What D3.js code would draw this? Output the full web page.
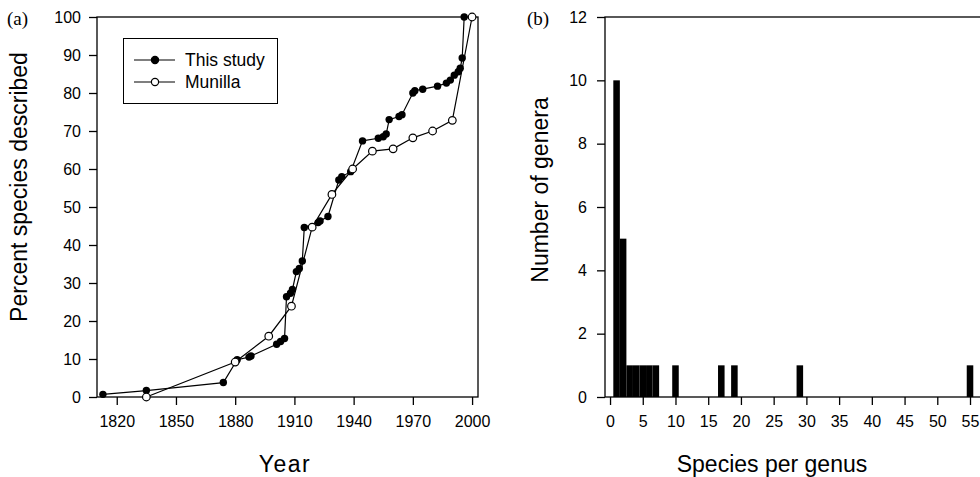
<!DOCTYPE html>
<html>
<head>
<meta charset="utf-8">
<script src="https://cdn.jsdelivr.net/npm/d3@7"></script>
<style>
  body { margin: 0; background: #fff; }
  svg { display: block; }
  .tick text { font-family: "Liberation Sans", Arial, sans-serif; font-size: 16px; fill: #000; }
  .title { font-family: "Liberation Sans", Arial, sans-serif; font-size: 23px; fill: #000; }
  .panel { font-family: "Liberation Serif", "Times New Roman", serif; font-size: 19px; fill: #000; }
</style>
</head>
<body>
<script>
// panel (a): cumulative percent of species described
const studyYears = [1813, 1835, 1874, 1881, 1887, 1888, 1901, 1903, 1905, 1906, 1908, 1909, 1911, 1912.5, 1914,
    1915, 1922, 1923, 1927, 1932.5, 1934, 1938.5, 1944.5, 1952.5, 1955, 1956.5, 1958, 1963, 1964.5,
    1970, 1971, 1975, 1982.5, 1987, 1989, 1991, 1993, 1994, 1995, 1996];
const studyPct = [0.7, 1.7, 3.8, 9.8, 10.5, 10.8, 13.9, 14.6, 15.4, 26.4, 27.3, 28.3, 33, 33.8, 35.8,
    44.6, 45.9, 46.3, 47.5, 57.1, 58, 59.3, 67.4, 68.1, 68.5, 69.2, 73, 73.8, 74.3,
    80, 80.6, 81, 81.8, 82.6, 83.4, 84.7, 85.6, 86.5, 89.2, 100];
const munillaYears = [1835, 1880, 1897, 1908.5, 1919, 1929, 1939.5, 1949.5, 1960, 1970, 1980, 1990, 2000];
const munillaPct = [0, 9.2, 16, 23.9, 44.7, 53.3, 60, 64.7, 65.3, 68.2, 70, 72.8, 100];
const yearTicks = [1820, 1850, 1880, 1910, 1940, 1970, 2000];
const pctTicks = [0, 10, 20, 30, 40, 50, 60, 70, 80, 90, 100];

// panel (b): genera by number of species
const speciesPerGenus = [1, 2, 3, 4, 5, 6, 7, 10, 17, 19, 29, 55];
const generaCount = [10, 5, 1, 1, 1, 1, 1, 1, 1, 1, 1, 1];
const speciesTicks = [0, 5, 10, 15, 20, 25, 30, 35, 40, 45, 50, 55];
const generaTicks = [0, 2, 4, 6, 8, 10, 12];

const W = 980, H = 477;
const svg = d3.select("body").append("svg").attr("width", W).attr("height", H);
const ink = "#000";

const plotTop = 17, plotBottom = 397;

// ---------- panel (a)
const xA = d3.scaleLinear().domain([1810, 2003]).range([97, 478]);
const yA = d3.scaleLinear().domain([0, 100]).range([plotBottom, plotTop]);

svg.append("rect").attr("x", 97).attr("y", plotTop).attr("width", 478 - 97).attr("height", plotBottom - plotTop)
    .attr("fill", "none").attr("stroke", ink).attr("stroke-width", 1.3);

const axA_x = svg.append("g").attr("transform", `translate(0,${plotBottom})`)
    .call(d3.axisBottom(xA).tickValues(yearTicks).tickFormat(d3.format("d")).tickSize(8).tickPadding(11));
const axA_y = svg.append("g").attr("transform", "translate(97,0)")
    .call(d3.axisLeft(yA).tickValues(pctTicks).tickSize(8).tickPadding(8));
[axA_x, axA_y].forEach(g => {
    g.select(".domain").remove();
    g.selectAll(".tick line").attr("stroke", ink).attr("stroke-width", 1.3);
});

const study = studyYears.map((y, i) => [y, studyPct[i]]);
const munilla = munillaYears.map((y, i) => [y, munillaPct[i]]);
const line = d3.line().x(d => xA(d[0])).y(d => yA(d[1]));

svg.append("path").datum(munilla).attr("d", line).attr("fill", "none").attr("stroke", ink).attr("stroke-width", 1.2);
svg.append("path").datum(study).attr("d", line).attr("fill", "none").attr("stroke", ink).attr("stroke-width", 1.2);

svg.append("g").selectAll("circle").data(study).join("circle")
    .attr("cx", d => xA(d[0])).attr("cy", d => yA(d[1])).attr("r", 3.7).attr("fill", ink);
svg.append("g").selectAll("circle").data(munilla).join("circle")
    .attr("cx", d => xA(d[0])).attr("cy", d => yA(d[1])).attr("r", 3.8)
    .attr("fill", "#fff").attr("stroke", ink).attr("stroke-width", 1.2);

// legend
const lg = svg.append("g");
lg.append("rect").attr("x", 123.5).attr("y", 38.5).attr("width", 154).attr("height", 65)
    .attr("fill", "#fff").attr("stroke", ink).attr("stroke-width", 1);
const legendRows = [{ name: "This study", filled: true, y: 60 }, { name: "Munilla", filled: false, y: 82 }];
legendRows.forEach(r => {
    lg.append("line").attr("x1", 134).attr("x2", 175).attr("y1", r.y).attr("y2", r.y)
        .attr("stroke", ink).attr("stroke-width", 1.2);
    lg.append("circle").attr("cx", 155).attr("cy", r.y).attr("r", 3.6)
        .attr("fill", r.filled ? ink : "#fff").attr("stroke", ink).attr("stroke-width", 1.2);
    lg.append("text").attr("x", 185).attr("y", r.y + 6).text(r.name)
        .style("font-family", "'Liberation Sans', Arial, sans-serif").style("font-size", "17.5px").attr("fill", ink);
});

svg.append("text").attr("class", "title").attr("text-anchor", "middle")
    .attr("transform", "translate(27,187) rotate(-90)").text("Percent species described");
svg.append("text").attr("class", "title").attr("text-anchor", "middle").attr("x", 285).attr("y", 472)
    .style("letter-spacing", "1.5px").text("Year");
svg.append("text").attr("class", "panel").attr("x", 7).attr("y", 25).text("(a)");

// ---------- panel (b)
const xB = d3.scaleLinear().domain([-0.8, 57]).range([604.8, 604.8 + 57.8 * 6.545]);
const yB = d3.scaleLinear().domain([0, 12]).range([plotBottom, plotTop]);

svg.append("rect").attr("x", 605).attr("y", plotTop).attr("width", 400).attr("height", plotBottom - plotTop)
    .attr("fill", "none").attr("stroke", ink).attr("stroke-width", 1.3);

const barW = xB(1) - xB(0);
svg.append("g").selectAll("rect").data(speciesPerGenus).join("rect")
    .attr("x", d => xB(d) - barW / 2).attr("width", barW)
    .attr("y", (d, i) => yB(generaCount[i])).attr("height", (d, i) => yB(0) - yB(generaCount[i]))
    .attr("fill", ink);

const axB_x = svg.append("g").attr("transform", `translate(0,${plotBottom})`)
    .call(d3.axisBottom(xB).tickValues(speciesTicks).tickSize(8).tickPadding(11));
const axB_y = svg.append("g").attr("transform", "translate(605,0)")
    .call(d3.axisLeft(yB).tickValues(generaTicks).tickSize(8).tickPadding(10));
[axB_x, axB_y].forEach(g => {
    g.select(".domain").remove();
    g.selectAll(".tick line").attr("stroke", ink).attr("stroke-width", 1.3);
});

svg.append("text").attr("class", "title").attr("text-anchor", "middle")
    .attr("transform", "translate(548,190) rotate(-90)").text("Number of genera");
svg.append("text").attr("class", "title").attr("text-anchor", "middle").attr("x", 772).attr("y", 472)
    .text("Species per genus");
svg.append("text").attr("class", "panel").attr("x", 527).attr("y", 25).text("(b)");
</script>
</body>
</html>
